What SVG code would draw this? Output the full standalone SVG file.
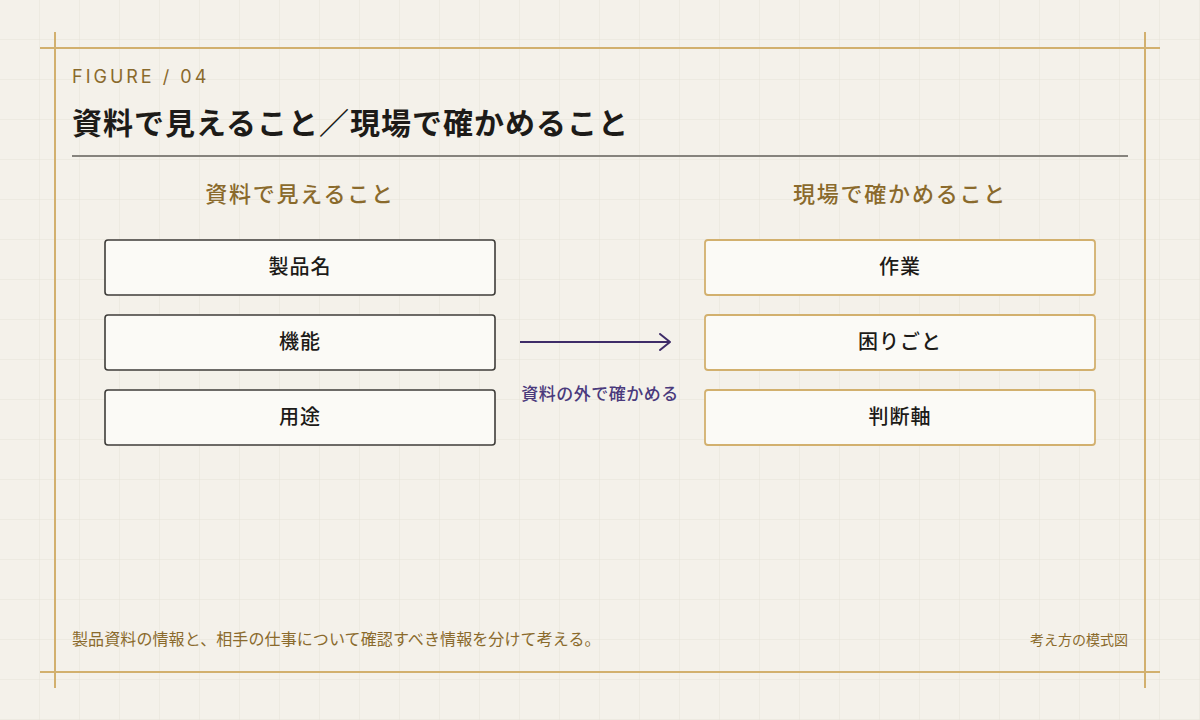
<svg xmlns="http://www.w3.org/2000/svg" width="1200" height="720" viewBox="0 0 1200 720">
  <defs>
    <pattern id="grid" x="0" y="0" width="40" height="40" patternUnits="userSpaceOnUse">
      <path d="M40 0 V40 M0 40 H40" fill="none" stroke="#e7e2d8" stroke-width="1"/>
    </pattern>
    <marker id="chev" viewBox="0 0 12 18" refX="11" refY="9" markerWidth="12" markerHeight="18" markerUnits="userSpaceOnUse" orient="auto">
      <path d="M1 1 L11 9 L1 17" fill="none" stroke="#3e2c68" stroke-width="2" stroke-linecap="round" stroke-linejoin="round"/>
    </marker>
    <style>
      text { font-family: "Noto Sans CJK JP", "Noto Sans", sans-serif; }
      .frame { stroke: #d2b06e; stroke-width: 2; fill: none; }
      .eyebrow { font-family: "Inter", "Noto Sans", sans-serif; font-size: 18px; letter-spacing: 3px; fill: #8a6a2c; }
      .title { font-size: 30px; font-weight: 700; fill: #1d1b18; letter-spacing: 1px; }
      .colhead { font-size: 22px; font-weight: 500; fill: #8a6a2c; letter-spacing: 1.8px; text-anchor: middle; }
      .boxL { fill: #fbfaf6; stroke: #3f3d3a; stroke-width: 1.6; }
      .boxR { fill: #fbfaf6; stroke: #d2b06e; stroke-width: 1.8; }
      .label { font-size: 20px; font-weight: 500; fill: #1d1b18; text-anchor: middle; letter-spacing: 1px; }
      .conn { stroke: #3e2c68; stroke-width: 2; fill: none; }
      .connlabel { font-size: 17px; font-weight: 500; fill: #4a3a7c; text-anchor: middle; letter-spacing: 0.5px; }
      .foot { font-size: 16px; fill: #8a6a2c; letter-spacing: 0.1px; }
      .footR { font-size: 14px; fill: #8a6a2c; text-anchor: end; }
    </style>
  </defs>
  <rect width="1200" height="720" fill="#f4f1ea"/>
  <rect width="1200" height="720" fill="url(#grid)"/>

  <g id="frame">
    <line class="frame" x1="40" y1="48" x2="1160" y2="48"/>
    <line class="frame" x1="40" y1="672" x2="1160" y2="672"/>
    <line class="frame" x1="55" y1="32" x2="55" y2="688"/>
    <line class="frame" x1="1145" y1="32" x2="1145" y2="688"/>
  </g>

  <g id="header">
    <text class="eyebrow" x="72" y="83">FIGURE / 04</text>
    <text class="title" x="72" y="134">資料で見えること／現場で確かめること</text>
    <line x1="72" y1="156" x2="1128" y2="156" stroke="#86837d" stroke-width="2"/>
  </g>

  <g id="col-left-head"><text class="colhead" x="300" y="202">資料で見えること</text></g>
  <g id="col-right-head"><text class="colhead" x="900" y="202">現場で確かめること</text></g>

  <g id="node-seihinmei">
    <rect class="boxL" x="105" y="240" width="390" height="55" rx="3"/>
    <text class="label" x="300" y="274">製品名</text>
  </g>
  <g id="node-kinou">
    <rect class="boxL" x="105" y="315" width="390" height="55" rx="3"/>
    <text class="label" x="300" y="349">機能</text>
  </g>
  <g id="node-youto">
    <rect class="boxL" x="105" y="390" width="390" height="55" rx="3"/>
    <text class="label" x="300" y="424">用途</text>
  </g>

  <g id="node-sagyou">
    <rect class="boxR" x="705" y="240" width="390" height="55" rx="3"/>
    <text class="label" x="900" y="274">作業</text>
  </g>
  <g id="node-komarigoto">
    <rect class="boxR" x="705" y="315" width="390" height="55" rx="3"/>
    <text class="label" x="900" y="349">困りごと</text>
  </g>
  <g id="node-handanjiku">
    <rect class="boxR" x="705" y="390" width="390" height="55" rx="3"/>
    <text class="label" x="900" y="424">判断軸</text>
  </g>

  <g id="connectors">
    <line class="conn" x1="520" y1="342" x2="670" y2="342" marker-end="url(#chev)"/>
    <text class="connlabel" x="600" y="400">資料の外で確かめる</text>
  </g>

  <g id="footer">
    <text class="foot" x="72" y="645">製品資料の情報と、相手の仕事について確認すべき情報を分けて考える。</text>
    <text class="footR" x="1128" y="645">考え方の模式図</text>
  </g>
</svg>
